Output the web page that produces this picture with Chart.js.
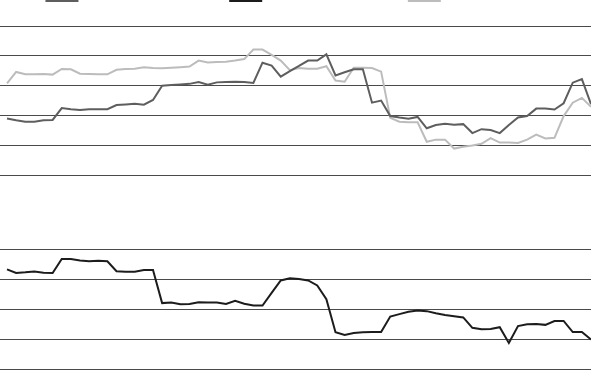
<!DOCTYPE html>
<html>
<head>
<meta charset="utf-8">
<script src="https://cdn.jsdelivr.net/npm/chart.js@4.4.1/dist/chart.umd.min.js"></script>
<style>
  html, body { margin: 0; padding: 0; background: #fff; overflow: hidden; }
  #wrap { position: absolute; left: 0; top: -20px; width: 591px; height: 390px; }
</style>
</head>
<body>
<div id="wrap"><canvas id="chart"></canvas></div>
<script>
// one label per period, 65 periods
var periods = [];
for (var i = 1; i <= 65; i++) periods.push("P" + i);

var seriesNames = ["Broad Market Index Level", "Net Traded Volume Total", "Sector Benchmark"];

// top panel, dark grey
var indexValues = [
  19.0, 18.4, 17.9, 17.9, 18.4, 18.5, 22.5, 22.1, 21.8, 22.1,
  22.1, 22.1, 23.5, 23.7, 23.9, 23.6, 25.2, 30.0, 30.2, 30.4,
  30.6, 31.2, 30.3, 31.1, 31.2, 31.3, 31.2, 30.9, 37.7, 36.7,
  33.0, 34.9, 36.6, 38.4, 38.4, 40.5, 33.4, 34.5, 35.5, 35.5,
  24.3, 25.0, 19.8, 19.3, 18.9, 19.5, 15.7, 16.8, 17.2, 16.9,
  17.1, 14.1, 15.4, 15.1, 14.1, 16.8, 19.3, 19.8, 22.3, 22.3,
  22.0, 24.1, 31.0, 32.2, 23.8
];

// bottom panel, black
var volumeValues = [
  33.4, 32.2, 32.4, 32.7, 32.3, 32.2, 36.9, 36.9, 36.4, 36.1,
  36.3, 36.1, 32.8, 32.6, 32.6, 33.2, 33.2, 22.1, 22.3, 21.7,
  21.8, 22.4, 22.3, 22.3, 21.8, 22.9, 21.9, 21.3, 21.3, 25.5,
  29.7, 30.4, 30.2, 29.7, 28.0, 23.4, 12.3, 11.4, 12.1, 12.3,
  12.4, 12.4, 17.6, 18.4, 19.2, 19.6, 19.4, 18.7, 18.1, 17.7,
  17.3, 13.8, 13.3, 13.4, 14.0, 8.7, 14.4, 15.0, 15.1, 14.8,
  16.1, 16.1, 12.4, 12.4, 9.9
];

// top panel, light grey
var benchmarkValues = [
  30.8, 34.6, 33.8, 33.8, 33.9, 33.7, 35.6, 35.5, 34.0, 33.9,
  33.8, 33.8, 35.3, 35.6, 35.7, 36.2, 35.9, 35.8, 36.0, 36.2,
  36.4, 38.4, 37.8, 37.9, 38.0, 38.4, 38.9, 42.1, 42.1, 40.3,
  38.4, 35.2, 35.9, 35.7, 35.7, 36.5, 31.7, 31.3, 36.0, 36.0,
  35.9, 34.7, 19.2, 17.9, 17.7, 17.7, 11.2, 11.9, 11.9, 8.9,
  9.5, 9.9, 10.5, 12.4, 10.9, 10.9, 10.8, 11.9, 13.6, 12.3,
  12.5, 19.8, 24.3, 25.9, 22.9
];

var topTicks = [0, 10, 20, 30, 40, 50];
var bottomTicks = [0, 10, 20, 30, 40];

var gridColor = "#4a4a4a";

function keepTicks(list) {
  return function (scale) {
    scale.ticks = list.map(function (v) { return { value: v }; });
  };
}

// extra room under the legend
var legendGap = {
  id: "legendGap",
  beforeInit: function (chart) {
    var fit = chart.legend.fit;
    chart.legend.fit = function () {
      fit.bind(chart.legend)();
      this.height += 14;
    };
  },
};

new Chart(document.getElementById("chart").getContext("2d"), {
  type: "line",
  data: {
    labels: periods,
    datasets: [
      {
        label: seriesNames[0],
        data: indexValues,
        borderColor: "#5e5e5e",
        backgroundColor: "#5e5e5e",
        borderWidth: 2,
        yAxisID: "y",
      },
      {
        label: seriesNames[1],
        data: volumeValues,
        borderColor: "#1c1c1c",
        backgroundColor: "#1c1c1c",
        borderWidth: 2,
        yAxisID: "y2",
      },
      {
        label: seriesNames[2],
        data: benchmarkValues,
        borderColor: "#bcbcbc",
        backgroundColor: "#bcbcbc",
        borderWidth: 2,
        yAxisID: "y",
      },
    ],
  },
  plugins: [legendGap],
  options: {
    responsive: true,
    maintainAspectRatio: false,
    animation: false,
    layout: { padding: { bottom: 1 } },
    elements: {
      point: { radius: 0 },
      line: { tension: 0, borderJoinStyle: "miter" },
    },
    plugins: {
      tooltip: { enabled: false },
      legend: {
        position: "top",
        labels: {
          boxWidth: 31,
          boxHeight: 10,
          color: "#333",
          font: { size: 12 },
        },
      },
    },
    scales: {
      x: { display: false },
      y: {
        position: "left",
        stack: "panels",
        stackWeight: 5,
        weight: 1,
        min: 0,
        max: 50,
        afterBuildTicks: keepTicks(topTicks),
        ticks: { display: false },
        border: { display: false },
        grid: { color: gridColor, lineWidth: 1, tickLength: 7 },
      },
      y2: {
        position: "left",
        stack: "panels",
        stackWeight: 6.5,
        weight: 0,
        min: 0,
        max: 65,
        afterBuildTicks: keepTicks(bottomTicks),
        ticks: { display: false },
        border: { display: false },
        grid: { color: gridColor, lineWidth: 1, tickLength: 7 },
      },
    },
  },
});
</script>
</body>
</html>
